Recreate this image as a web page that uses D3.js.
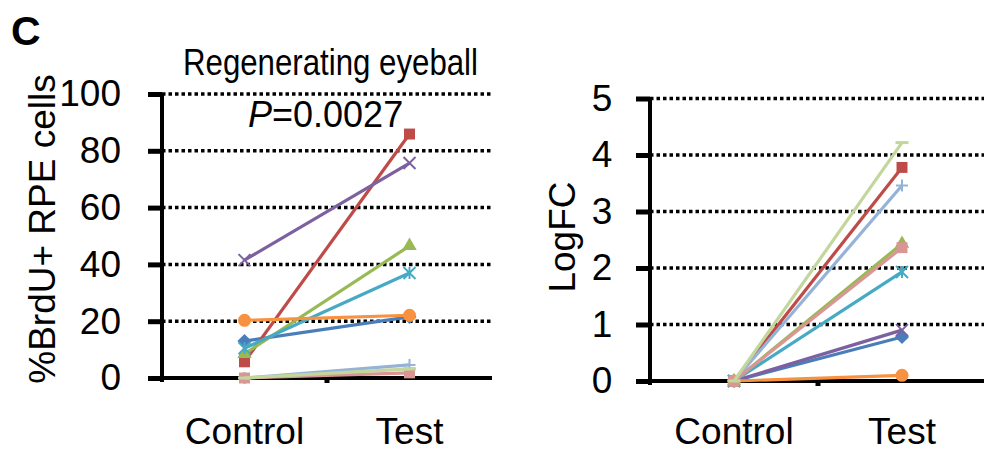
<!DOCTYPE html>
<html>
<head>
<meta charset="utf-8">
<script src="https://cdn.jsdelivr.net/npm/d3@7"></script>
<style>
  body { margin: 0; background: #fff; }
  text { font-family: "Liberation Sans", Arial, sans-serif; fill: #000; }
</style>
</head>
<body>
<div id="chart"></div>
<script>
// data
const categories = ["Control", "Test"];

// left panel: %BrdU+ RPE cells, one entry per eyeball
const brduControl = [13, 5.7, 8.5, 41.5, 10.5, 20.3, 0, 0, 0];
const brduTest    = [21.5, 85.9, 46.5, 75.7, 37, 22.1, 4.6, 1.8, 3.2];
const brduTicks   = [0, 20, 40, 60, 80, 100];

// right panel: LogFC
const logfcControl = [0, 0, 0, 0, 0, 0, 0, 0, 0];
const logfcTest    = [0.78, 3.78, 2.43, 0.9, 1.93, 0.1, 3.46, 2.36, 4.22];
const logfcTicks   = [0, 1, 2, 3, 4, 5];

// series styling (Excel default palette + markers)
const colors  = ["#4a7ebb", "#be4b48", "#98b954", "#7d60a0", "#46aac5", "#f69240", "#95b3d7", "#d99694", "#c3d69b"];
const markers = ["diamond", "square", "triangle", "x", "star", "circle", "plus", "square", "dash"];

let svg = d3.select("#chart")
    .append("svg")
    .attr("width", 984)
    .attr("height", 451);

// draws one marker glyph centred at (cx, cy)
function drawMarker(g, type, cx, cy, color) {
    let m = g.append("g").attr("transform", `translate(${cx},${cy})`);
    if (type == "diamond") {
        m.append("path").attr("d", d3.symbol(d3.symbolSquare, 100)()).attr("transform", "rotate(45)").attr("fill", color);
    } else if (type == "square") {
        m.append("path").attr("d", d3.symbol(d3.symbolSquare, 120)()).attr("fill", color);
    } else if (type == "triangle") {
        m.append("path").attr("d", d3.symbol(d3.symbolTriangle, 90)()).attr("fill", color);
    } else if (type == "circle") {
        m.append("circle").attr("r", 6.5).attr("fill", color);
    } else if (type == "dash") {
        m.append("rect").attr("x", -6.5).attr("y", -1.5).attr("width", 13).attr("height", 3).attr("fill", color);
    } else {
        // stroke markers: x, star, plus
        let s = 6;
        let segs = [];
        if (type == "x" || type == "star") segs.push([-s, -s, s, s], [-s, s, s, -s]);
        if (type == "star") segs.push([0, -s, 0, s]);
        if (type == "plus") segs.push([-s, 0, s, 0], [0, -s, 0, s]);
        segs.forEach(function (d) {
            m.append("line")
                .attr("x1", d[0]).attr("y1", d[1]).attr("x2", d[2]).attr("y2", d[3])
                .attr("stroke", color).attr("stroke-width", 2);
        });
    }
}

function drawPanel(p) {
    let xScale = d3.scaleBand().domain(categories).range([p.x0, p.x1]);
    let yScale = d3.scaleLinear().domain([0, p.ticks[p.ticks.length - 1]]).range([p.y0, p.y1]);
    let xc = function (c) { return xScale(c) + xScale.bandwidth() / 2; };

    // dotted gridlines
    svg.append("g")
        .selectAll("line")
        .data(p.ticks.slice(1)).enter()
        .append("line")
        .attr("x1", p.x0).attr("x2", p.gridEnd)
        .attr("y1", d => yScale(d)).attr("y2", d => yScale(d))
        .attr("stroke", "#000")
        .attr("stroke-width", 3.5)
        .attr("stroke-dasharray", "3.5,3");

    // y axis
    let yAxis = d3.axisLeft(yScale)
        .tickValues(p.ticks)
        .tickFormat(d3.format("d"))
        .tickSize(14)
        .tickSizeOuter(0)
        .tickPadding(p.pad);
    let ga = svg.append("g")
        .attr("transform", `translate(${p.x0},0)`)
        .call(yAxis);
    ga.select(".domain").attr("stroke-width", 4).attr("d", `M0,${p.y0 + 4}V${p.y1}`);
    ga.selectAll(".tick line").attr("stroke-width", 5);
    ga.selectAll(".tick text")
        .style("font-family", "'Liberation Sans', Arial, sans-serif")
        .style("font-size", "37px")
        .attr("text-anchor", p.anchor)
        .attr("x", p.anchor == "middle" ? -p.pad - 24 : -14 - p.pad);

    // x axis line with tick between categories
    svg.append("line")
        .attr("x1", p.x0 - 14).attr("x2", p.x1)
        .attr("y1", p.y0).attr("y2", p.y0)
        .attr("stroke", "#000").attr("stroke-width", 4);
    svg.append("line")
        .attr("x1", xScale(categories[1])).attr("x2", xScale(categories[1]))
        .attr("y1", p.y0).attr("y2", p.y0 + 5)
        .attr("stroke", "#000").attr("stroke-width", 5);

    svg.append("g")
        .selectAll("text")
        .data(categories).enter()
        .append("text")
        .attr("x", d => xc(d))
        .attr("y", 444)
        .attr("text-anchor", "middle")
        .style("font-size", "37px")
        .text(d => d);

    // y label
    svg.append("text")
        .attr("transform", `translate(${p.labelX},${p.labelY}) rotate(-90)`)
        .attr("text-anchor", "middle")
        .style("font-size", "37px")
        .text(p.label);

    // series lines + markers
    let gs = svg.append("g");
    p.control.forEach(function (v, i) {
        let pts = [[xc(categories[0]), yScale(v)], [xc(categories[1]), yScale(p.test[i])]];
        gs.append("path")
            .attr("d", d3.line()(pts))
            .attr("fill", "none")
            .attr("stroke", colors[i])
            .attr("stroke-width", 3.2);
        pts.forEach(function (pt) {
            drawMarker(gs, markers[i], pt[0], pt[1], colors[i]);
        });
    });
}

drawPanel({
    x0: 162, x1: 492, gridEnd: 492, y0: 378, y1: 94,
    ticks: brduTicks, control: brduControl, test: brduTest,
    pad: 27, anchor: "end",
    label: "%BrdU+ RPE cells", labelX: 55, labelY: 229
});

drawPanel({
    x0: 650, x1: 986, gridEnd: 984, y0: 381, y1: 98.5,
    ticks: logfcTicks, control: logfcControl, test: logfcTest,
    pad: 24, anchor: "middle",
    label: "LogFC", labelX: 575, labelY: 237
});

// panel letter, title and P value
svg.append("text")
    .attr("x", 11).attr("y", 45)
    .style("font-size", "41px")
    .style("font-weight", "bold")
    .text("C");

svg.append("text")
    .attr("x", 183).attr("y", 75)
    .attr("textLength", 295)
    .attr("lengthAdjust", "spacingAndGlyphs")
    .style("font-size", "36px")
    .text("Regenerating eyeball");

let pText = svg.append("text")
    .attr("x", 248).attr("y", 127)
    .style("font-size", "36px");
pText.append("tspan").style("font-style", "italic").text("P");
pText.append("tspan").text("=0.0027");
</script>
</body>
</html>
